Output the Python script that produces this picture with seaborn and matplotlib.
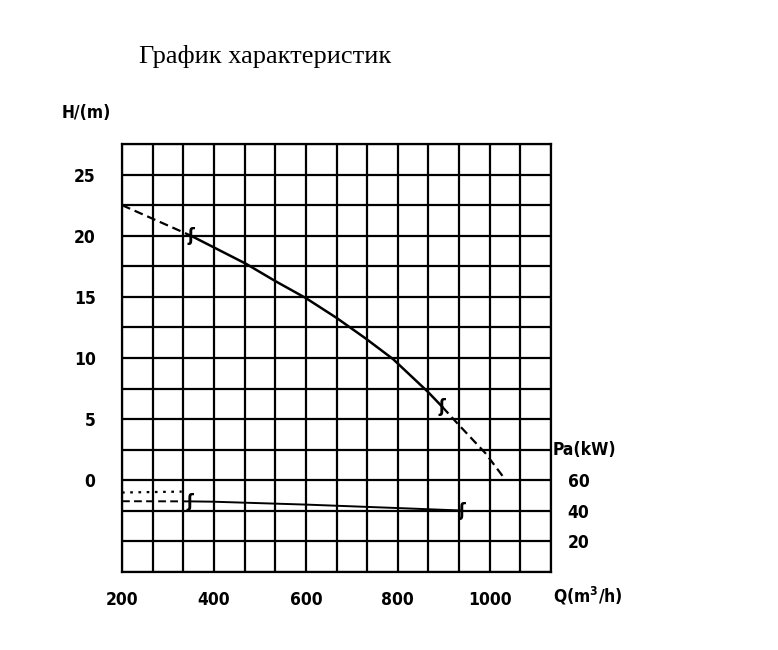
import numpy as np
import pandas as pd
import matplotlib
matplotlib.use('Agg')
import matplotlib.pyplot as plt
import seaborn as sns

# head curve H(Q)
q_head_dash_left = [200, 350]
h_head_dash_left = [22.5, 20.0]
q_head_solid = [350, 470, 533, 600, 666, 730, 790, 865, 897]
h_head_solid = [20.0, 17.7, 16.3, 14.9, 13.3, 11.6, 9.9, 7.25, 6.0]
q_head_dash_right = [897, 926, 991, 1035]
h_head_dash_right = [6.0, 4.8, 2.2, 0.0]

# power curve Pa(Q)
q_pow_dash = [200, 348]
p_pow_dash = [46.3, 46.2]
q_pow_dot = [200, 330]
p_pow_dot = [52.0, 52.6]
q_pow_solid = [348, 397, 600, 803, 940]
p_pow_solid = [46.2, 46.0, 44.1, 41.8, 40.2]

# "f" marks on the curves
mark_head_q = [350, 897]
mark_head_h = [20.0, 6.0]
mark_pow_q = [348, 940]
mark_pow_p = [46.0, 40.2]

x_ticks = [200, 400, 600, 800, 1000]
h_ticks = [0, 5, 10, 15, 20, 25]
p_ticks = [20, 40, 60]

sns.set_style('white')
plt.rcParams['font.family'] = ['DejaVu Sans']
plt.rcParams['font.stretch'] = 'condensed'
plt.rcParams['font.weight'] = 'bold'
plt.rcParams['text.color'] = 'black'
plt.rcParams['xtick.color'] = 'black'
plt.rcParams['ytick.color'] = 'black'

fig = plt.figure(figsize=(7.78, 6.5), dpi=100)
ax = fig.add_axes([122 / 778, 78 / 650, 429 / 778, 428 / 650])

q_min, q_max = 200, 200 + 14 * 200 / 3
h_min, h_max = -7.5, 27.5
ax.set_xlim(q_min, q_max)
ax.set_ylim(h_min, h_max)

lw_grid = 1.6
ax.set_xticks(x_ticks)
ax.set_xticks(np.linspace(q_min, q_max, 15), minor=True)
ax.set_yticks(h_ticks)
ax.set_yticks(np.linspace(h_min, h_max, 15), minor=True)
ax.grid(True, which='both', color='black', linewidth=lw_grid)
ax.tick_params(which='both', length=0)
ax.tick_params(axis='x', pad=14, labelsize=12.5)
ax.tick_params(axis='y', pad=19, labelsize=12.5)
for s in ax.spines.values():
    s.set_linewidth(lw_grid)
    s.set_color('black')
ax.set_axisbelow(True)

dash = (0, (4, 2.2))
sns.lineplot(x=q_head_dash_left, y=h_head_dash_left, ax=ax, color='black', linewidth=1.6)
ax.lines[-1].set_linestyle(dash)
sns.lineplot(x=q_head_solid, y=h_head_solid, ax=ax, color='black', linewidth=1.8)
sns.lineplot(x=q_head_dash_right, y=h_head_dash_right, ax=ax, color='black', linewidth=1.6)
ax.lines[-1].set_linestyle(dash)

for q, h in zip(mark_head_q, mark_head_h):
    ax.text(q, h, 'ʃ', ha='center', va='center', fontsize=13, family='DejaVu Sans')

# power axis on the right
ax2 = ax.twinx()
ax2.set_ylim(60 + 8 * h_min, 60 + 8 * h_max)
ax2.set_yticks(p_ticks)
ax2.tick_params(axis='y', length=0, pad=12, labelsize=12.5)
ax2.grid(False)
for s in ax2.spines.values():
    s.set_visible(False)

sns.lineplot(x=q_pow_dash, y=p_pow_dash, ax=ax2, color='black', linewidth=1.4)
ax2.lines[-1].set_linestyle(dash)
sns.lineplot(x=q_pow_dot, y=p_pow_dot, ax=ax2, color='black', linewidth=1.6)
ax2.lines[-1].set_linestyle((0, (1.2, 2.5)))
sns.lineplot(x=q_pow_solid, y=p_pow_solid, ax=ax2, color='black', linewidth=1.4)
for q, p in zip(mark_pow_q, mark_pow_p):
    ax2.text(q, p, 'ʃ', ha='center', va='center', fontsize=13, family='DejaVu Sans')
ax2.set_xlim(q_min, q_max)

fig.text(265 / 778, 1 - 57 / 650, 'График характеристик', ha='center', va='center',
         fontsize=19, fontweight='normal', fontstretch='normal',
         family=['Liberation Serif', 'DejaVu Serif'])
fig.text(86 / 778, 1 - 113 / 650, 'H/(m)', ha='center', va='center', fontsize=12.5)
fig.text(584 / 778, 1 - 450 / 650, 'Pa(kW)', ha='center', va='center', fontsize=12.5)
fig.text(588 / 778, 1 - 596 / 650, 'Q(m$^3$/h)', ha='center', va='center', fontsize=12.5)

fig.savefig('out.png', dpi=100, facecolor='white')
